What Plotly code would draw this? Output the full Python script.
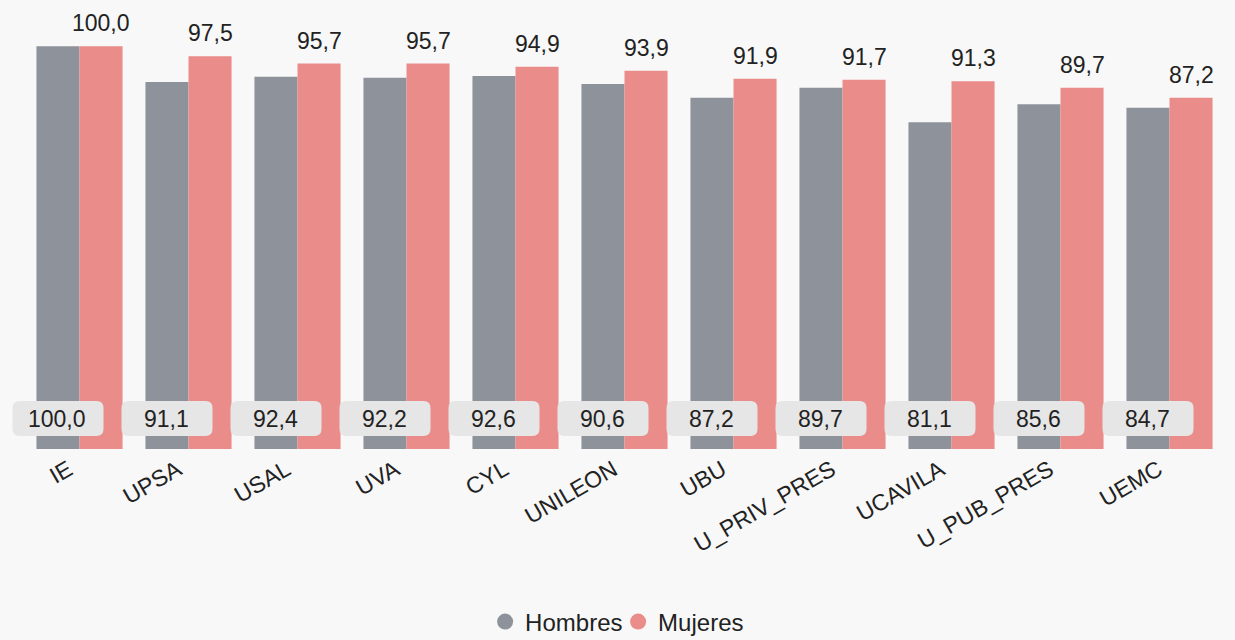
import plotly.graph_objects as go

categories = ["IE", "UPSA", "USAL", "UVA", "CYL", "UNILEON", "UBU", "U_PRIV_PRES", "UCAVILA", "U_PUB_PRES", "UEMC"]
hombres = [100.0, 91.1, 92.4, 92.2, 92.6, 90.6, 87.2, 89.7, 81.1, 85.6, 84.7]
mujeres = [100.0, 97.5, 95.7, 95.7, 94.9, 93.9, 91.9, 91.7, 91.3, 89.7, 87.2]

GREY = "#8e929a"
PINK = "#e98c8a"
BG = "#f8f8f8"
FONT = "Liberation Sans, Arial, sans-serif"
TXT = "#222222"
FS = 23

def fmt(v):
    return f"{v:.1f}".replace(".", ",")

fig = go.Figure()
fig.add_trace(go.Bar(x=categories, y=hombres, name="Hombres", marker_color=GREY,
                     marker_line_width=0, showlegend=False, hoverinfo="skip"))
fig.add_trace(go.Bar(x=categories, y=mujeres, name="Mujeres", marker_color=PINK,
                     marker_line_width=0, showlegend=False, hoverinfo="skip"))
# legend entries with circle markers
for name, col in [("Hombres", GREY), ("Mujeres", PINK)]:
    fig.add_trace(go.Scatter(x=[None], y=[None], mode="markers", name=name,
                             marker=dict(symbol="circle", size=22, color=col)))

shapes = []
annotations = []
OFF = 21.5
r = 7
x0, x1, y0, y1 = -OFF - 45.5, -OFF + 45.5, 13, 48
path = (f"M {x0+r},{y0} L {x1-r},{y0} Q {x1},{y0} {x1},{y0+r} L {x1},{y1-r} "
        f"Q {x1},{y1} {x1-r},{y1} L {x0+r},{y1} Q {x0},{y1} {x0},{y1-r} "
        f"L {x0},{y0+r} Q {x0},{y0} {x0+r},{y0} Z")
for c, h, m in zip(categories, hombres, mujeres):
    shapes.append(dict(type="path", xref="x", yref="y", xsizemode="pixel", ysizemode="pixel",
                       xanchor=c, yanchor=0, path=path, fillcolor="#e6e6e6",
                       line=dict(width=0), layer="above"))
    annotations.append(dict(x=c, y=0, xref="x", yref="y", xshift=-OFF - 1, yshift=30.5,
                            text=fmt(h), showarrow=False, yanchor="middle", xanchor="center",
                            font=dict(family=FONT, size=FS, color=TXT)))
    annotations.append(dict(x=c, y=m, xref="x", yref="y", xshift=OFF, yshift=8,
                            text=fmt(m), showarrow=False, yanchor="bottom", xanchor="center",
                            font=dict(family=FONT, size=FS, color=TXT)))

n = len(categories)
fig.update_layout(
    width=1235, height=640,
    paper_bgcolor=BG, plot_bgcolor=BG,
    margin=dict(l=0, r=11, t=10, b=191, autoexpand=False),
    barmode="group", bargap=0.21, bargroupgap=0,
    font=dict(family=FONT, size=FS, color=TXT),
    xaxis=dict(tickangle=-30, showgrid=False, showline=False, ticks="",
               automargin=False, range=[-0.5 - 25 / 109, n - 0.5],
               ticklabelshift=-11, ticklabelstandoff=2,
               tickfont=dict(family=FONT, size=FS, color=TXT)),
    yaxis=dict(range=[0, 109], visible=False, showgrid=False, zeroline=False),
    legend=dict(orientation="h", x=0.505, xanchor="center", y=-0.394, yanchor="middle",
                font=dict(family=FONT, size=FS + 1, color=TXT), itemwidth=30,
                entrywidth=88, entrywidthmode="pixels",
                bgcolor="rgba(0,0,0,0)", tracegroupgap=0),
    shapes=shapes, annotations=annotations,
)

fig.write_html("out.html", config={"displayModeBar": False},
               post_script="document.body.style.margin='0';document.body.style.background='#f8f8f8';document.body.style.overflow='hidden';")
